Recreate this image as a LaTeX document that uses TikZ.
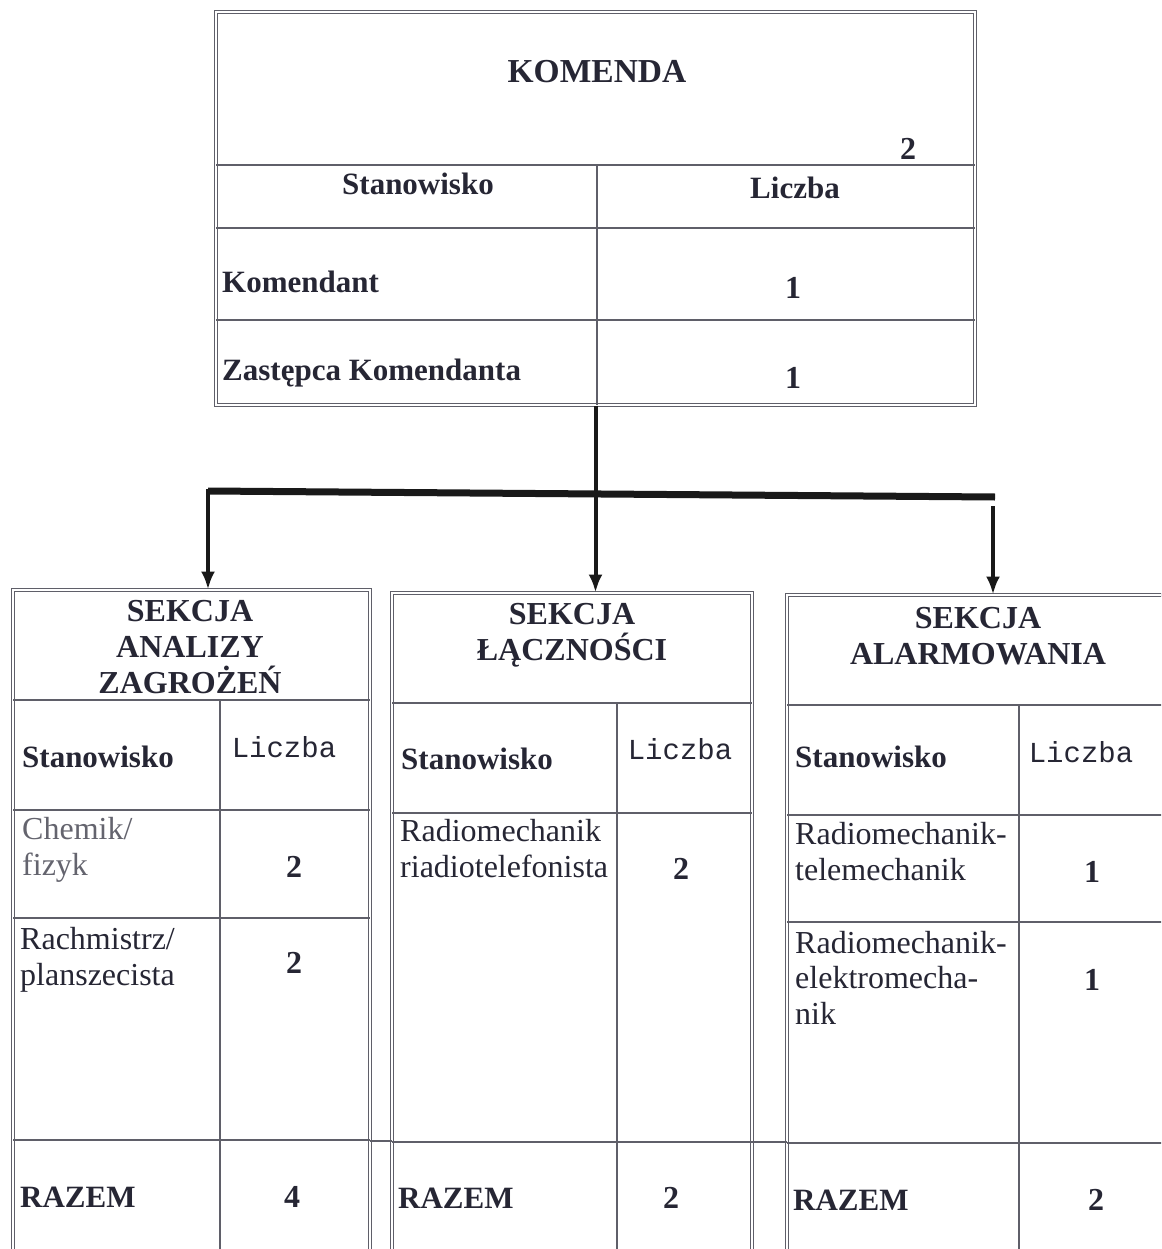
\documentclass[tikz,border=0pt]{standalone}
\usepackage{fontspec}
\setmainfont{Liberation Serif}
\setmonofont{Liberation Mono}
\usetikzlibrary{arrows.meta}
\definecolor{ink}{RGB}{38,38,52}
\definecolor{rulec}{RGB}{95,95,105}
\definecolor{pale}{RGB}{100,100,110}
\tikzset{
  frame/.style={draw=rulec, double=white, double distance=2.2pt, line width=1pt, inner sep=0pt},
  gridline/.style={draw=rulec, line width=1.3pt},
  hb/.style={font=\fontsize{32}{36}\selectfont\bfseries, text=ink, inner sep=0pt, align=center},
  hbl/.style={font=\fontsize{31}{36}\selectfont\bfseries, text=ink, inner sep=0pt},
  tx/.style={font=\fontsize{32}{35.5}\selectfont, text=ink, inner sep=0pt, align=left},
  mono/.style={font=\fontsize{29}{32}\selectfont\ttfamily, text=ink, inner sep=0pt},
  conn/.style={line width=4pt, draw=black!90},
  bus/.style={line width=7pt, draw=black!90},
  arr/.style={conn, -{Latex[length=18pt,width=14pt]}}
}
\begin{document}
\begin{tikzpicture}[x=1pt,y=-1pt]
\useasboundingbox (0,0) rectangle (1161,1249);
\clip (0,0) rectangle (1161,1249);
\fill[white] (0,0) rectangle (1161,1249);

% ---------- KOMENDA ----------
\node[frame, minimum width=759pt, minimum height=393pt] (kom) at (595.5,208.5) {};
\draw[gridline] (216,165) -- (975,165);
\draw[gridline] (216,228) -- (975,228);
\draw[gridline] (216,320) -- (975,320);
\draw[gridline] (597,165) -- (597,405);
\node[hb, anchor=base, font=\fontsize{33.5}{36}\selectfont\bfseries] (komt) at (597,83) {KOMENDA};
\node[hb, anchor=base] (komn) at (908,160) {2};
\node[hbl, anchor=base] (komh1) at (418,195) {Stanowisko};
\node[hbl, anchor=base] (komh2) at (795,199) {Liczba};
\node[hbl, anchor=base west] (komr1) at (222,292) {Komendant};
\node[hb, anchor=base] (komr1n) at (793,298) {1};
\node[hbl, anchor=base west] (komr2) at (222,380) {Zastępca Komendanta};
\node[hb, anchor=base] (komr2n) at (793,388) {1};

% ---------- Sections ----------
\node[frame, minimum width=357pt, minimum height=700pt] (secA) at (191.5,940) {};
\node[frame, minimum width=360pt, minimum height=700pt] (secB) at (572,943) {};
\node[frame, minimum width=388pt, minimum height=700pt] (secC) at (981,945) {};

% grid A
\draw[gridline] (13,700) -- (370,700);
\draw[gridline] (13,810) -- (370,810);
\draw[gridline] (13,918) -- (370,918);
\draw[gridline] (13,1140) -- (370,1140);
\draw[gridline] (220,700) -- (220,1290);
% grid B
\draw[gridline] (392,703) -- (752,703);
\draw[gridline] (392,813) -- (752,813);
\draw[gridline] (392,1142) -- (752,1142);
\draw[gridline] (617,703) -- (617,1290);
% grid C
\draw[gridline] (787,705) -- (1175,705);
\draw[gridline] (787,815) -- (1175,815);
\draw[gridline] (787,922) -- (1175,922);
\draw[gridline] (787,1143) -- (1175,1143);
\draw[gridline] (1019,705) -- (1019,1290);
% razem line across gaps
\draw[gridline] (370,1141) -- (392,1141);
\draw[gridline] (752,1142) -- (787,1142);

% texts A (multi-line nodes: base = last line)
\node[hb, anchor=base] (aT) at (190,693) {SEKCJA\\ANALIZY\\ZAGROŻEŃ};
\node[hbl, anchor=base west] (aH1) at (22,767) {Stanowisko};
\node[mono, anchor=base] (aH2) at (284,757) {Liczba};
\node[tx, anchor=base west, text=pale] (aR1) at (22,875) {Chemik/\\fizyk};
\node[hb, anchor=base] (aR1n) at (294,877) {2};
\node[tx, anchor=base west] (aR2) at (20,985) {Rachmistrz/\\planszecista};
\node[hb, anchor=base] (aR2n) at (294,973) {2};
\node[hbl, anchor=base west] (aS) at (20,1207) {RAZEM};
\node[hb, anchor=base] (aSn) at (292,1207) {4};

% texts B
\node[hb, anchor=base] (bT) at (572,660) {SEKCJA\\ŁĄCZNOŚCI};
\node[hbl, anchor=base west] (bH1) at (401,769) {Stanowisko};
\node[mono, anchor=base] (bH2) at (680,759) {Liczba};
\node[tx, anchor=base west] (bR1) at (400,877) {Radiomechanik\\riadiotelefonista};
\node[hb, anchor=base] (bR1n) at (681,879) {2};
\node[hbl, anchor=base west] (bS) at (398,1208) {RAZEM};
\node[hb, anchor=base] (bSn) at (671,1208) {2};

% texts C
\node[hb, anchor=base] (cT) at (978,664) {SEKCJA\\ALARMOWANIA};
\node[hbl, anchor=base west] (cH1) at (795,767) {Stanowisko};
\node[mono, anchor=base] (cH2) at (1081,762) {Liczba};
\node[tx, anchor=base west] (cR1) at (795,880) {Radiomechanik-\\telemechanik};
\node[hb, anchor=base] (cR1n) at (1092,882) {1};
\node[tx, anchor=base west] (cR2) at (795,1024) {Radiomechanik-\\elektromecha-\\nik};
\node[hb, anchor=base] (cR2n) at (1092,990) {1};
\node[hbl, anchor=base west] (cS) at (793,1210) {RAZEM};
\node[hb, anchor=base] (cSn) at (1096,1210) {2};

% ---------- Connectors ----------
\coordinate (busL) at (208,491);
\coordinate (busR) at (995,497);
\coordinate (dropR) at (993,506);
\draw[bus] (busL) -- (busR);
\draw[arr] (kom.south) -- (kom.south |- secB.north);
\draw[arr] ([yshift=2pt]busL) -- (busL |- secA.north);
\draw[arr] (dropR) -- (dropR |- secC.north);
\end{tikzpicture}
\end{document}
